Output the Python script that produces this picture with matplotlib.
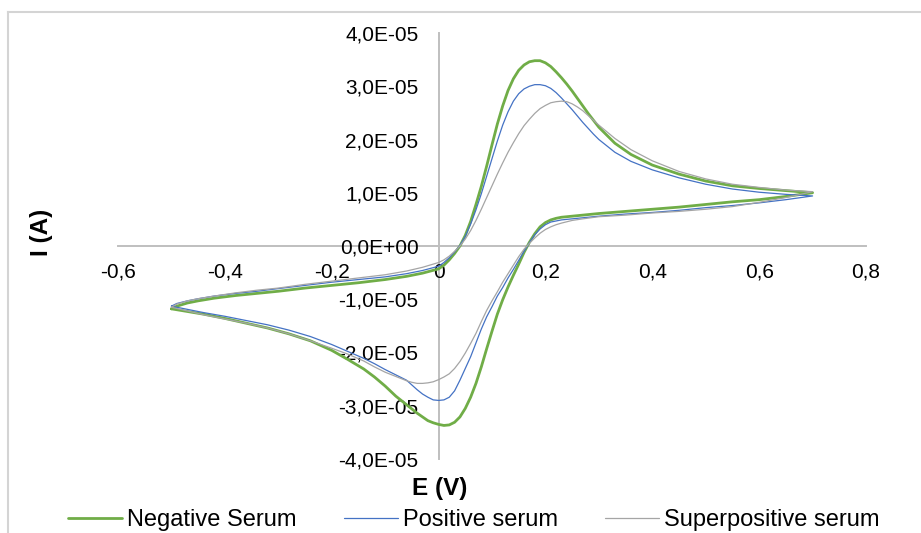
import matplotlib
matplotlib.use("Agg")
import matplotlib.pyplot as plt
from matplotlib.lines import Line2D

plt.rcParams["font.family"] = ["Liberation Sans", "DejaVu Sans"]

# ---- cyclic voltammograms ----
# potentials (V) of the forward scan (-0.5 -> 0.7 V) and the reverse scan (0.7 -> -0.5 V)
fwd_E = [-0.50, -0.49, -0.47, -0.45, -0.42, -0.38, -0.34, -0.30, -0.25, -0.20,
         -0.15, -0.10, -0.06, -0.03,
         0.00, 0.01, 0.02, 0.03, 0.04, 0.05, 0.06, 0.07, 0.08, 0.09, 0.10,
         0.11, 0.12, 0.13, 0.14, 0.15, 0.16, 0.17, 0.18, 0.19, 0.20,
         0.21, 0.22, 0.23, 0.24, 0.25, 0.26, 0.27, 0.28, 0.29, 0.30,
         0.33, 0.36, 0.40, 0.45, 0.50, 0.55, 0.60, 0.65, 0.70]
rev_E = [0.70, 0.65, 0.60, 0.55, 0.50, 0.45, 0.40, 0.35, 0.30,
         0.27, 0.25, 0.23, 0.22,
         0.21, 0.20, 0.19, 0.18, 0.17, 0.16, 0.15, 0.14, 0.13, 0.12, 0.11,
         0.10, 0.09, 0.08, 0.07, 0.06, 0.05, 0.04, 0.03, 0.02, 0.01, 0.00,
         -0.01, -0.02, -0.03, -0.04, -0.05, -0.06,
         -0.08, -0.10, -0.12, -0.14,
         -0.17, -0.20, -0.24, -0.28, -0.32, -0.36, -0.40, -0.44, -0.47, -0.50]

# currents in units of 1e-5 A
neg_fwd = [-1.18, -1.13, -1.07, -1.03, -0.98, -0.93, -0.89, -0.85, -0.79, -0.74,
           -0.69, -0.63, -0.57, -0.51,
           -0.43, -0.36, -0.26, -0.14, 0.00, 0.20, 0.46, 0.78, 1.12, 1.50, 1.90,
           2.29, 2.63, 2.92, 3.14, 3.30, 3.40, 3.46, 3.48, 3.48, 3.44,
           3.37, 3.27, 3.16, 3.04, 2.91, 2.77, 2.63, 2.49, 2.36, 2.23,
           1.93, 1.72, 1.52, 1.35, 1.22, 1.13, 1.08, 1.04, 1.00]
neg_rev = [1.00, 0.93, 0.87, 0.83, 0.78, 0.73, 0.69, 0.65, 0.61,
           0.58, 0.56, 0.54, 0.52,
           0.49, 0.44, 0.36, 0.23, 0.07, -0.12, -0.34, -0.55, -0.77, -1.01, -1.28,
           -1.60, -1.93, -2.27, -2.58, -2.84, -3.05, -3.21, -3.31, -3.36, -3.37, -3.35,
           -3.32, -3.28, -3.21, -3.14, -3.06, -2.98,
           -2.82, -2.63, -2.46, -2.31,
           -2.13, -1.96, -1.78, -1.65, -1.54, -1.45, -1.36, -1.28, -1.23, -1.18]

pos_fwd = [-1.13, -1.08, -1.03, -0.99, -0.94, -0.89, -0.85, -0.80, -0.74, -0.68,
           -0.63, -0.58, -0.52, -0.46,
           -0.38, -0.31, -0.22, -0.11, 0.01, 0.18, 0.41, 0.68, 0.98, 1.31, 1.64,
           1.97, 2.27, 2.52, 2.72, 2.86, 2.95, 3.00, 3.03, 3.03, 3.01,
           2.96, 2.88, 2.78, 2.67, 2.56, 2.44, 2.32, 2.21, 2.10, 2.00,
           1.76, 1.59, 1.43, 1.28, 1.16, 1.07, 1.01, 0.97, 0.94]
pos_rev = [0.94, 0.87, 0.81, 0.76, 0.72, 0.67, 0.63, 0.60, 0.56,
           0.53, 0.51, 0.49, 0.47,
           0.45, 0.40, 0.32, 0.21, 0.06, -0.10, -0.27, -0.44, -0.60, -0.78, -0.94,
           -1.14, -1.33, -1.56, -1.82, -2.08, -2.30, -2.52, -2.72, -2.84, -2.89, -2.90,
           -2.89, -2.84, -2.78, -2.70, -2.61, -2.52,
           -2.42, -2.32, -2.21, -2.11,
           -1.98, -1.85, -1.70, -1.58, -1.48, -1.40, -1.32, -1.25, -1.19, -1.13]

sup_fwd = [-1.15, -1.09, -1.03, -0.99, -0.94, -0.88, -0.83, -0.79, -0.72, -0.66,
           -0.60, -0.54, -0.47, -0.40,
           -0.31, -0.26, -0.19, -0.10, 0.00, 0.13, 0.29, 0.48, 0.69, 0.91, 1.13,
           1.35, 1.56, 1.76, 1.94, 2.11, 2.26, 2.38, 2.49, 2.58, 2.64,
           2.69, 2.71, 2.72, 2.71, 2.67, 2.61, 2.54, 2.45, 2.36, 2.27,
           2.02, 1.81, 1.60, 1.40, 1.26, 1.16, 1.10, 1.05, 1.02]
sup_rev = [1.02, 0.91, 0.82, 0.74, 0.69, 0.65, 0.62, 0.58, 0.55,
           0.51, 0.48, 0.43, 0.40,
           0.36, 0.31, 0.24, 0.15, 0.05, -0.06, -0.20, -0.36, -0.52, -0.68, -0.86,
           -1.03, -1.21, -1.42, -1.64, -1.83, -2.01, -2.17, -2.30, -2.40, -2.46, -2.51,
           -2.55, -2.57, -2.58, -2.58, -2.56, -2.53,
           -2.45, -2.37, -2.27, -2.16,
           -2.03, -1.92, -1.78, -1.65, -1.54, -1.45, -1.37, -1.29, -1.22, -1.15]

CURRENT_UNIT = 1e-5  # stored currents are in units of 1e-5 A

series_names = ["Negative Serum", "Positive serum", "Superpositive serum"]
series_I = [neg_fwd + neg_rev, pos_fwd + pos_rev, sup_fwd + sup_rev]
series_colors = ["#70AD47", "#4472C4", "#A5A5A5"]
series_widths = [2.0, 0.9, 0.9]

x_ticks = [-0.6, -0.4, -0.2, 0.0, 0.2, 0.4, 0.6, 0.8]
x_tick_labels = ["-0,6", "-0,4", "-0,2", "0", "0,2", "0,4", "0,6", "0,8"]
y_ticks = [-4e-5, -3e-5, -2e-5, -1e-5, 0.0, 1e-5, 2e-5, 3e-5, 4e-5]
y_tick_labels = [f"{v:.1E}".replace(".", ",") for v in y_ticks]

# ---- figure ----
W, H = 921, 533
fig = plt.figure(figsize=(W / 100, H / 100), dpi=100)
fig.patch.set_facecolor("white")

# outer chart-area frame (top and left edges visible)
frame_col = "#D4D4D4"
fig.add_artist(Line2D([8 / W, 1.0], [1 - 12 / H, 1 - 12 / H], color=frame_col, lw=1.5))
fig.add_artist(Line2D([8 / W, 8 / W], [0.0, 1 - 12 / H], color=frame_col, lw=1.5))

left, right, top, bottom = 118, 866, 33, 459
ax = fig.add_axes([left / W, 1 - bottom / H, (right - left) / W, (bottom - top) / H])
ax.set_xlim(-0.6, 0.8)
ax.set_ylim(-4e-5, 4e-5)

E_loop = fwd_E + rev_E
for name, I, col, lw in zip(series_names, series_I, series_colors, series_widths):
    ax.plot(E_loop, [v * CURRENT_UNIT for v in I], color=col, lw=lw, label=name,
            solid_joinstyle="round", solid_capstyle="round")

# axes cross at the origin
axis_col = "#BFBFBF"
for side in ("top", "right"):
    ax.spines[side].set_visible(False)
ax.spines["left"].set_position(("data", 0))
ax.spines["bottom"].set_position(("data", 0))
for side in ("left", "bottom"):
    ax.spines[side].set_color(axis_col)
    ax.spines[side].set_linewidth(1.4)
    ax.spines[side].set_zorder(0.5)

ax.set_xticks(x_ticks)
ax.set_xticklabels(x_tick_labels)
ax.set_yticks(y_ticks)
ax.set_yticklabels(y_tick_labels)
ax.tick_params(axis="both", length=0, labelsize=15, colors="black")
ax.tick_params(axis="x", pad=12)
ax.tick_params(axis="y", pad=14.5)
ax.patch.set_alpha(0)

fig.text(41 / W, 1 - 232 / H, "I (A)", rotation=90, fontsize=17.5, fontweight="bold",
         ha="center", va="center")
fig.text(440 / W, 1 - 488 / H, "E (V)", fontsize=17.5, fontweight="bold",
         ha="center", va="center")

handles, labels = ax.get_legend_handles_labels()
fig.legend(handles, labels, loc="center left", bbox_to_anchor=(68 / W, 1 - 520 / H),
           ncol=3, frameon=False, fontsize=17, handlelength=2.3, handletextpad=0.2,
           columnspacing=2.0, borderpad=0, borderaxespad=0)

fig.savefig("out.png", dpi=100)
